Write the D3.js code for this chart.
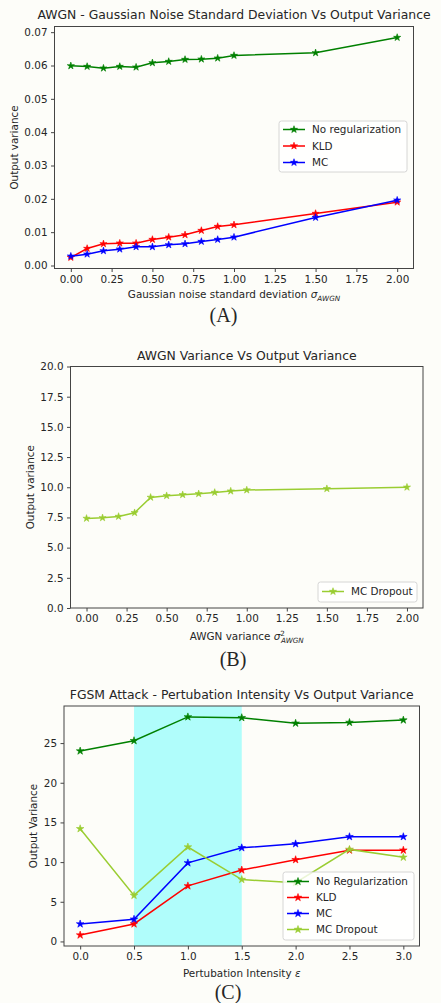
<!DOCTYPE html>
<html>
<head>
<meta charset="utf-8">
<script src="https://cdn.jsdelivr.net/npm/d3@7"></script>
<style>
  body { margin: 0; background: #fdfdf9; }
  svg text { font-family: "DejaVu Sans", sans-serif; fill: #262626; }
</style>
</head>
<body>
<svg id="fig" width="441" height="1003"></svg>
<script>
// ---- panel A : gaussian noise std vs output variance
const sigmaA = [0, 0.1, 0.2, 0.3, 0.4, 0.5, 0.6, 0.7, 0.8, 0.9, 1.0, 1.5, 2.0];
const noRegA = [0.0599, 0.0597, 0.0592, 0.0597, 0.0595, 0.0608, 0.0612, 0.0618, 0.0619, 0.0622, 0.0630, 0.0638, 0.0684];
const kldA   = [0.0024, 0.0051, 0.0065, 0.0067, 0.0067, 0.0078, 0.0085, 0.0092, 0.0105, 0.0117, 0.0122, 0.0156, 0.0190];
const mcA    = [0.0028, 0.0034, 0.0044, 0.0049, 0.0056, 0.0056, 0.0062, 0.0065, 0.0072, 0.0078, 0.0085, 0.0144, 0.0196];

// ---- panel B : AWGN variance vs output variance
const varB = [0, 0.1, 0.2, 0.3, 0.4, 0.5, 0.6, 0.7, 0.8, 0.9, 1.0, 1.5, 2.0];
const dropoutB = [7.42, 7.47, 7.58, 7.89, 9.16, 9.30, 9.38, 9.46, 9.57, 9.68, 9.77, 9.88, 10.0];

// ---- panel C : FGSM attack
const epsC = [0, 0.5, 1.0, 1.5, 2.0, 2.5, 3.0];
const noRegC   = [24.0, 25.3, 28.3, 28.2, 27.5, 27.6, 27.9];
const kldC     = [0.8, 2.2, 7.0, 9.0, 10.3, 11.5, 11.5];
const mcC      = [2.2, 2.8, 9.9, 11.8, 12.3, 13.2, 13.2];
const dropoutC = [14.2, 5.8, 11.9, 7.8, 7.4, 11.6, 10.6];
const spanC = [0.5, 1.5];

// tick values
const xTicksAB = [0, 0.25, 0.5, 0.75, 1.0, 1.25, 1.5, 1.75, 2.0];
const yTicksA = [0, 0.01, 0.02, 0.03, 0.04, 0.05, 0.06, 0.07];
const yTicksB = [0, 2.5, 5, 7.5, 10, 12.5, 15, 17.5, 20];
const xTicksC = [0, 0.5, 1.0, 1.5, 2.0, 2.5, 3.0];
const yTicksC = [0, 5, 10, 15, 20, 25];

const GREEN = "#008000", RED = "#ff0000", BLUE = "#0000ff", YG = "#9acd32";
const FS = 10.4;

const svg = d3.select("#fig");

// matplotlib-like autoscale: 5% margin on each side
function pad(arrs) {
  let lo = d3.min(arrs, a => d3.min(a)), hi = d3.max(arrs, a => d3.max(a));
  let m = (hi - lo) * 0.05;
  return [lo - m, hi + m];
}

function star(size) {
  return d3.symbol(d3.symbolStar, size)();
}

function panel(o) {
  const g = svg.append("g");
  const x = d3.scaleLinear().domain(o.xDomain).range([o.left, o.right]);
  const y = d3.scaleLinear().domain(o.yDomain).range([o.bottom, o.top]);

  if (o.span) {
    g.append("rect")
      .attr("x", x(o.span[0])).attr("y", o.top)
      .attr("width", x(o.span[1]) - x(o.span[0]))
      .attr("height", o.bottom - o.top)
      .attr("fill", "cyan").attr("fill-opacity", 0.3);
  }

  const line = d3.line().x(d => x(d[0])).y(d => y(d[1]));
  o.series.forEach(s => {
    let pts = o.xs.map((v, i) => [v, s.values[i]]);
    g.append("path").attr("d", line(pts))
      .attr("fill", "none").attr("stroke", s.color).attr("stroke-width", 1.5);
    g.selectAll(null).data(pts).join("path")
      .attr("d", star(o.starSize))
      .attr("transform", d => `translate(${x(d[0])},${y(d[1])})`)
      .attr("fill", s.color).attr("stroke", s.color).attr("stroke-width", 0.6);
  });

  // frame
  g.append("rect")
    .attr("x", o.left).attr("y", o.top)
    .attr("width", o.right - o.left).attr("height", o.bottom - o.top)
    .attr("fill", "none").attr("stroke", "#444").attr("stroke-width", 1);

  const xAxis = g.append("g").attr("transform", `translate(0,${o.bottom})`)
    .call(d3.axisBottom(x).tickValues(o.xTicks).tickFormat(d3.format(o.xFmt))
      .tickSize(3.5).tickPadding(3.5));
  const yAxis = g.append("g").attr("transform", `translate(${o.left},0)`)
    .call(d3.axisLeft(y).tickValues(o.yTicks).tickFormat(d3.format(o.yFmt))
      .tickSize(3.5).tickPadding(3.5));
  [xAxis, yAxis].forEach(a => {
    a.select(".domain").remove();
    a.selectAll("line").attr("stroke", "#444");
    a.selectAll("text").attr("font-size", FS).attr("font-family", "DejaVu Sans").attr("fill", "#333");
  });

  const cx = (o.left + o.right) / 2;
  g.append("text").attr("x", cx).attr("y", o.titleY)
    .attr("text-anchor", "middle").attr("font-size", 12.4).text(o.title);

  const xl = g.append("text").attr("x", cx).attr("y", o.xLabelY)
    .attr("text-anchor", "middle").attr("font-size", FS);
  o.xLabel(xl);

  g.append("text")
    .attr("transform", `translate(${o.yLabelX},${(o.top + o.bottom) / 2}) rotate(-90)`)
    .attr("text-anchor", "middle").attr("font-size", FS).text(o.yLabel);

  // legend
  const L = o.legend;
  g.append("rect").attr("x", L.x).attr("y", L.y).attr("width", L.w).attr("height", L.h)
    .attr("rx", 2.5).attr("fill", "#fff").attr("fill-opacity", 0.8)
    .attr("stroke", "#ccc").attr("stroke-width", 0.8);
  o.series.forEach((s, i) => {
    let ry = L.y + L.first + i * L.step;
    g.append("line").attr("x1", L.x + 4).attr("x2", L.x + 26).attr("y1", ry).attr("y2", ry)
      .attr("stroke", s.color).attr("stroke-width", 1.5);
    g.append("path").attr("d", star(o.starSize))
      .attr("transform", `translate(${L.x + 15},${ry})`)
      .attr("fill", s.color).attr("stroke", s.color).attr("stroke-width", 0.6);
    g.append("text").attr("x", L.x + 33).attr("y", ry).attr("dy", "0.36em")
      .attr("font-size", FS).text(s.name);
  });

  svg.append("text").attr("x", o.tagX).attr("y", o.tagY)
    .attr("text-anchor", "middle")
    .attr("font-size", 20).style("font-family", "'Liberation Serif', serif").text(o.tag);
}

function sigmaSub(t, pre) {
  t.append("tspan").text(pre);
  t.append("tspan").attr("font-style", "italic").text("σ");
  t.append("tspan").attr("font-style", "italic").attr("font-size", 7.2).attr("dy", 2.5).text("AWGN");
}

panel({
  left: 54.5, right: 413.5, top: 26.5, bottom: 268.5,
  xDomain: [-0.1, 2.1], yDomain: pad([noRegA, kldA, mcA]),
  xs: sigmaA, starSize: 16,
  series: [
    { name: "No regularization", values: noRegA, color: GREEN },
    { name: "KLD", values: kldA, color: RED },
    { name: "MC", values: mcA, color: BLUE }
  ],
  xTicks: xTicksAB, yTicks: yTicksA, xFmt: ".2f", yFmt: ".2f",
  title: "AWGN - Gaussian Noise Standard Deviation Vs Output Variance", titleY: 19,
  xLabel: t => sigmaSub(t, "Gaussian noise standard deviation "), xLabelY: 298,
  yLabel: "Output variance", yLabelX: 18,
  legend: { x: 279, y: 121, w: 128, h: 51, first: 8.5, step: 16.5 },
  tag: "(A)", tagX: 223.5, tagY: 322
});

panel({
  left: 70.5, right: 423, top: 366.5, bottom: 608,
  xDomain: [-0.1, 2.1], yDomain: [0, 20],
  xs: varB, starSize: 16,
  series: [{ name: "MC Dropout", values: dropoutB, color: YG }],
  xTicks: xTicksAB, yTicks: yTicksB, xFmt: ".2f", yFmt: ".1f",
  title: "AWGN Variance Vs Output Variance", titleY: 360,
  xLabel: t => {
    t.append("tspan").text("AWGN variance ");
    t.append("tspan").attr("font-style", "italic").text("σ");
    t.append("tspan").attr("font-size", 7.2).attr("dy", -4.5).text("2");
    t.append("tspan").attr("font-style", "italic").attr("font-size", 7.2).attr("dx", -4).attr("dy", 7).text("AWGN");
  }, xLabelY: 640,
  yLabel: "Output variance", yLabelX: 34,
  legend: { x: 318, y: 582, w: 99, h: 20, first: 9.5, step: 16 },
  tag: "(B)", tagX: 233, tagY: 666
});

panel({
  left: 64, right: 419.5, top: 706, bottom: 946,
  xDomain: [-0.15, 3.15], yDomain: pad([noRegC, kldC, mcC, dropoutC]),
  xs: epsC, starSize: 18, span: spanC,
  series: [
    { name: "No Regularization", values: noRegC, color: GREEN },
    { name: "KLD", values: kldC, color: RED },
    { name: "MC", values: mcC, color: BLUE },
    { name: "MC Dropout", values: dropoutC, color: YG }
  ],
  xTicks: xTicksC, yTicks: yTicksC, xFmt: ".1f", yFmt: "d",
  title: "FGSM Attack - Pertubation Intensity Vs Output Variance", titleY: 699,
  xLabel: t => {
    t.append("tspan").text("Pertubation Intensity ");
    t.append("tspan").attr("font-style", "italic").text("ε");
  }, xLabelY: 977,
  yLabel: "Output Variance", yLabelX: 37,
  legend: { x: 283, y: 872, w: 131, h: 68, first: 9.5, step: 16 },
  tag: "(C)", tagX: 228, tagY: 999
});
</script>
</body>
</html>
